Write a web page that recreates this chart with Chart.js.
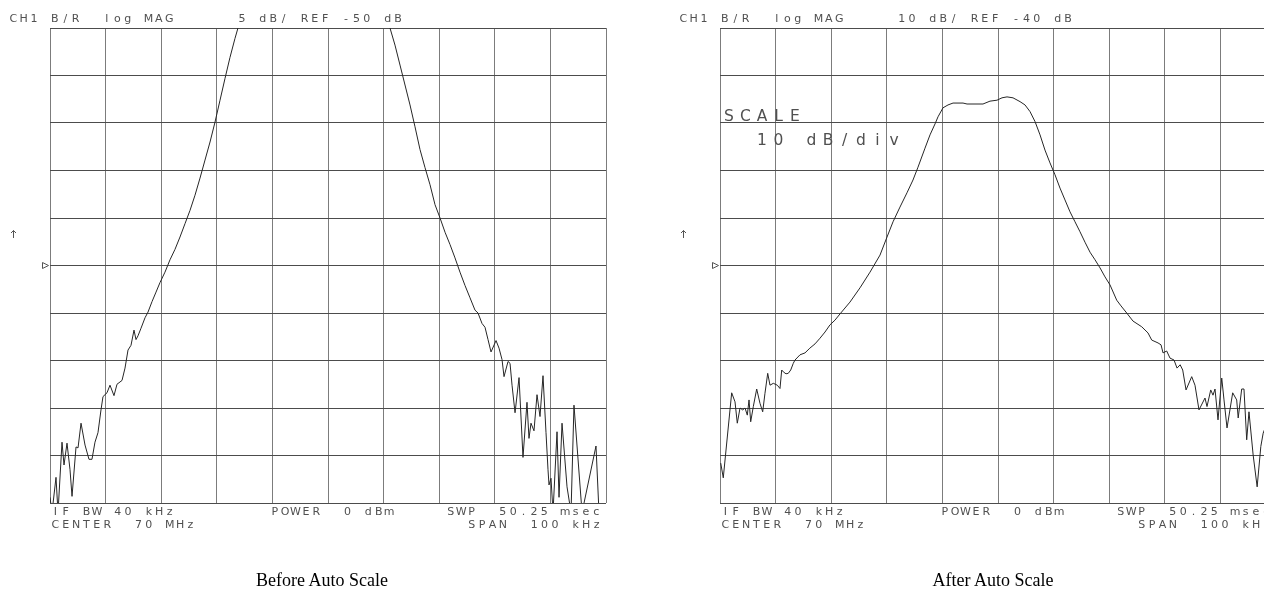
<!DOCTYPE html>
<html>
<head>
<meta charset="utf-8">
<script src="https://cdn.jsdelivr.net/npm/chart.js@4.4.1/dist/chart.umd.min.js"></script>
<style>
  html, body { margin: 0; padding: 0; background: #fff; overflow: hidden; width: 1264px; height: 594px; position: relative; }
  canvas { position: absolute; top: 0; }
  #before { left: 0; width: 632px; height: 594px; }
  #after { left: 632px; width: 680px; height: 594px; }
  .cap { position: absolute; top: 569px; line-height: 22px; font-family: "Liberation Serif", serif; font-size: 18px; color: #000; transform: translateX(-50%); white-space: nowrap; }
</style>
</head>
<body>
<canvas id="before" width="632" height="594"></canvas>
<canvas id="after" width="680" height="594"></canvas>
<div class="cap" style="left:322px">Before Auto Scale</div>
<div class="cap" style="left:993px">After Auto Scale</div>
<script>
// frequency offset from 70 MHz centre (kHz) and B/R magnitude (dB)
const beforeFreq = [-50.0, -49.64, -48.92, -48.56, -47.84, -47.48, -46.94, -46.40, -46.04, -45.32,
  -44.96, -44.42, -43.70, -42.99, -42.45, -41.91, -41.37, -40.83, -40.47, -39.75,
  -39.21, -38.49, -37.95, -37.05, -36.51, -35.97, -35.43, -34.89, -34.53, -34.17,
  -33.63, -32.91, -32.37, -31.65, -30.93, -30.22, -29.32, -28.42, -27.52, -26.62,
  -25.72, -24.82, -23.92, -23.02, -22.12, -21.22, -20.32, -19.42, -18.52, -17.63,
  -16.73, -16.19, -15.29, -14.39, -13.13, -12.23, -10.79, -8.99, -6.29, -2.70,
  -0.18, 1.62, 3.96, 5.76, 7.56, 9.35, 10.25, 11.15, 12.05, 12.95,
  13.85, 14.75, 15.65, 16.55, 17.45, 18.35, 19.25, 20.15, 21.05, 21.95,
  22.84, 23.74, 24.64, 25.54, 26.44, 26.98, 27.70, 28.24, 28.78, 29.32,
  30.22, 30.76, 31.30, 31.66, 32.38, 32.74, 33.10, 33.64, 34.36, 35.07,
  35.79, 36.15, 36.51, 37.05, 37.59, 38.13, 38.67, 39.21, 39.57, 39.75,
  40.11, 40.47, 41.19, 41.55, 42.09, 42.99, 43.71, 44.24, 45.69, 48.20,
  48.74, 50.0];
const beforeDb = [-74.4, -76, -72.3, -76, -68.6, -71.0, -68.7, -71.5, -74.3, -69.1,
  -69.2, -66.6, -68.9, -70.4, -70.4, -68.6, -67.6, -65.2, -63.8, -63.4,
  -62.6, -63.7, -62.5, -62.1, -60.8, -58.9, -58.4, -56.8, -57.8, -57.4,
  -56.6, -55.5, -54.9, -53.8, -52.8, -51.8, -50.7, -49.4, -48.3, -47.0,
  -45.6, -44.2, -42.6, -40.8, -38.9, -37.0, -34.9, -32.6, -30.3, -28.1,
  -26.1, -25.0, -22.0, -19.3, -15.3, -12.5, -8.7, -6.2, -5.8, -6.0,
  -5.2, -4.5, -5.5, -7.6, -12.5, -18.4, -20.9, -25.0, -26.8, -28.9,
  -31.0, -33.1, -35.4, -37.8, -39.7, -41.5, -43.6, -45.0, -46.5, -47.8,
  -49.2, -50.7, -52.1, -53.4, -54.7, -55.0, -56.1, -56.5, -57.8, -59.1,
  -57.9, -58.7, -59.9, -61.7, -60.1, -60.3, -62.6, -65.5, -61.8, -70.2,
  -64.4, -68.2, -66.6, -67.4, -63.6, -65.9, -61.6, -67.6, -71.5, -73.1,
  -72.4, -76, -67.5, -74.4, -66.6, -73.3, -76, -64.7, -76, -69.0,
  -76, -76];

const afterFreq = [-49.87, -49.41, -47.90, -47.30, -46.89, -46.40, -45.92, -45.50, -45.09, -44.78,
  -44.48, -44.01, -43.40, -42.81, -42.32, -41.91, -41.42, -41.01, -40.41, -39.69,
  -39.21, -38.90, -38.61, -38.13, -37.72, -37.28, -36.82, -36.51, -35.61, -34.71,
  -33.84, -32.91, -32.01, -31.11, -30.22, -29.32, -28.42, -26.62, -24.82, -23.02,
  -21.22, -19.96, -18.88, -17.63, -16.37, -15.29, -14.39, -13.13, -12.23, -11.33,
  -10.79, -9.89, -8.99, -8.09, -6.29, -5.57, -2.70, -1.44, -0.18, 0.72,
  1.62, 2.70, 3.96, 4.86, 5.76, 6.66, 7.56, 8.45, 9.35, 10.25,
  11.15, 12.05, 12.95, 13.85, 14.75, 15.65, 16.55, 17.45, 18.35, 19.25,
  20.15, 21.35, 22.12, 23.15, 24.28, 25.85, 26.98, 27.65, 28.78, 29.32,
  29.68, 30.34, 30.94, 31.66, 32.20, 32.76, 33.22, 33.82, 34.84, 35.43,
  36.15, 37.23, 37.59, 38.26, 38.67, 39.03, 39.57, 40.24, 40.65, 41.19,
  42.21, 42.93, 43.20, 43.83, 44.24, 44.73, 45.14, 45.89, 46.61, 47.27,
  47.69, 48.60, 49.90];
const afterDb = [-81.6, -84.7, -66.8, -68.7, -73.2, -70.0, -70.4, -70.0, -71.5, -68.3,
  -72.9, -69.7, -66.0, -69.0, -70.8, -66.9, -62.7, -65.2, -64.8, -65.2,
  -65.9, -62.0, -62.4, -62.8, -62.7, -62.0, -60.6, -59.9, -58.8, -58.4,
  -57.4, -56.5, -55.3, -54.0, -52.5, -51.5, -50.2, -47.7, -44.7, -41.4,
  -37.8, -34.0, -30.8, -27.7, -24.7, -22.0, -19.3, -15.3, -12.5, -10.2,
  -8.7, -6.8, -6.2, -5.8, -5.8, -6.0, -6.0, -5.4, -5.2, -4.7,
  -4.5, -4.7, -5.5, -6.2, -7.6, -9.7, -12.5, -15.7, -18.4, -20.9,
  -23.7, -26.2, -28.7, -30.8, -32.9, -35.1, -37.2, -38.8, -40.5, -42.4,
  -44.1, -47.3, -48.5, -50.0, -51.7, -52.9, -54.2, -55.7, -56.3, -56.7,
  -58.4, -58.0, -59.5, -59.9, -61.6, -60.9, -62.0, -66.2, -63.4, -65.2,
  -70.4, -67.9, -69.7, -66.2, -67.3, -66.0, -72.5, -63.7, -68.3, -74.2,
  -66.8, -68.3, -72.1, -66.0, -66.0, -76.7, -70.8, -79.9, -86.6, -78.1,
  -75.3, -72.5, -76.7];

const beforeHeader = 'CH1 B/R  log MAG      5 dB/ REF -50 dB';
const afterHeader = 'CH1 B/R  log MAG     10 dB/ REF -40 dB';
const footLeft = ['IF BW 40 kHz', 'CENTER  70 MHz'];
const footMid = 'POWER  0 dBm';
const footRight = ['SWP  50.25 msec', 'SPAN  100 kHz'];

// plotter style fixed-pitch text, each glyph centred in its cell
function mono(ctx, s, x, y, pitch, cell) {
  ctx.textAlign = 'center';
  for (let i = 0; i < s.length; i++) ctx.fillText(s[i], x + i * pitch + cell / 2, y);
}

const hpText = {
  id: 'hpText',
  afterDraw(chart, args, opts) {
    const ctx = chart.ctx;
    const a = chart.chartArea;
    const L = a.left, mid = (a.top + a.bottom) / 2;
    ctx.save();
    ctx.fillStyle = '#505050';
    ctx.font = '11px "DejaVu Sans", sans-serif';
    mono(ctx, opts.header, L - 40.5, 21.5, 10.4, 7.5);
    mono(ctx, footLeft[0], L + 1.5, 515, 10.4, 7.5);
    mono(ctx, footLeft[1], L + 1.5, 528, 10.4, 7.5);
    mono(ctx, footMid, L + 221, 515, 10.4, 7.5);
    mono(ctx, footRight[0], L + 397, 515, 10.4, 7.5);
    mono(ctx, footRight[1], L + 418, 528, 10.4, 7.5);
    if (opts.scaleNote) {
      ctx.font = '15.5px "DejaVu Sans", sans-serif';
      mono(ctx, 'SCALE', L + 3.5, 121, 16.5, 11);
      mono(ctx, '  10 dB/div', L + 3.5, 145, 16.5, 11);
    }
    // active channel arrow and reference position marker
    ctx.strokeStyle = '#555';
    ctx.lineWidth = 1;
    const ax = L - 36.5;
    ctx.beginPath();
    ctx.moveTo(ax, 238); ctx.lineTo(ax, 230.5);
    ctx.moveTo(ax - 2.5, 233); ctx.lineTo(ax, 230.5); ctx.lineTo(ax + 2.5, 233);
    ctx.stroke();
    ctx.beginPath();
    ctx.moveTo(L - 7.5, mid - 3);
    ctx.lineTo(L - 1.5, mid);
    ctx.lineTo(L - 7.5, mid + 3);
    ctx.closePath();
    ctx.stroke();
    ctx.restore();
  }
};

function trace(id, freq, db, yMin, yMax, yStep, pad, header, scaleNote) {
  return new Chart(document.getElementById(id), {
    type: 'line',
    data: {
      datasets: [{
        data: freq.map((f, i) => ({ x: f, y: db[i] })),
        borderColor: '#262626',
        borderWidth: 1,
        pointRadius: 0,
        tension: 0,
        fill: false
      }]
    },
    options: {
      responsive: false,
      animation: false,
      events: [],
      layout: { padding: pad },
      plugins: {
        legend: { display: false },
        tooltip: { enabled: false },
        hpText: { header: header, scaleNote: scaleNote }
      },
      scales: {
        x: {
          type: 'linear', min: -50, max: 50,
          ticks: { display: false, stepSize: 10 },
          grid: { color: '#7c7c7c', drawTicks: false },
          border: { display: false }
        },
        y: {
          min: yMin, max: yMax,
          ticks: { display: false, stepSize: yStep },
          grid: { color: '#4c4c4c', drawTicks: false },
          border: { display: false }
        }
      }
    },
    plugins: [hpText]
  });
}

trace('before', beforeFreq, beforeDb, -75, -25, 5, { left: 50, top: 28, right: 26, bottom: 91 }, beforeHeader, false);
trace('after', afterFreq, afterDb, -90, 10, 10, { left: 88, top: 28, right: 36, bottom: 91 }, afterHeader, true);
</script>
</body>
</html>
